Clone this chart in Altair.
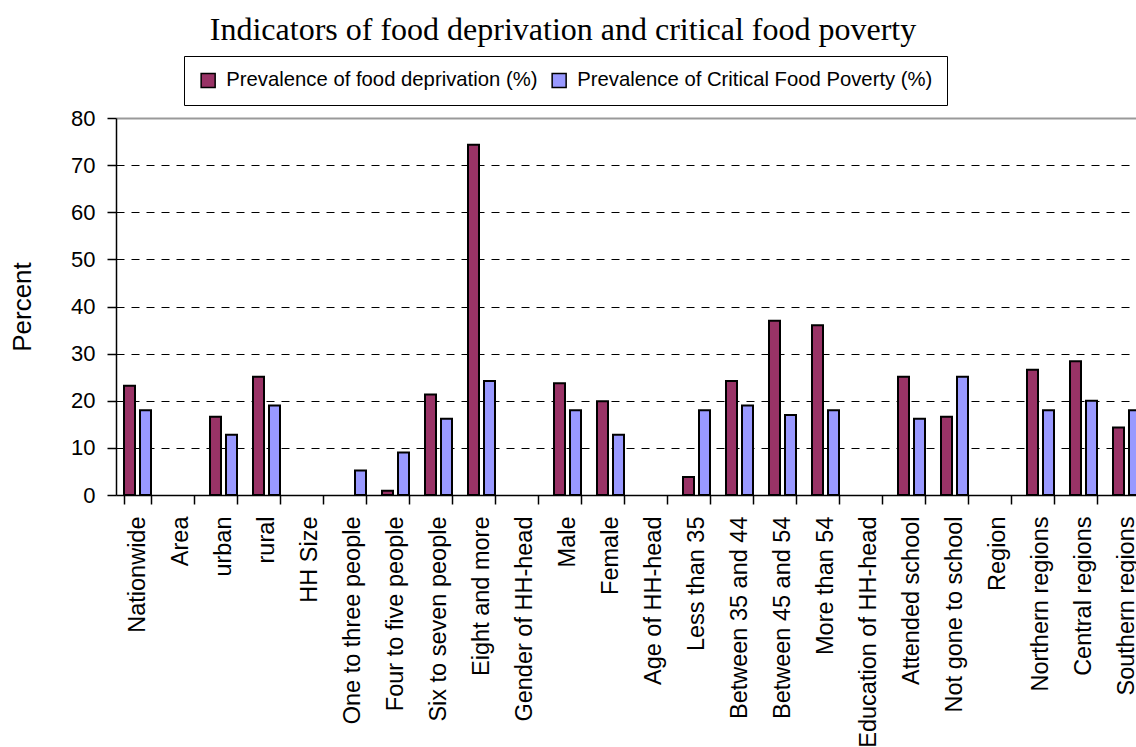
import altair as alt
import pandas as pd

# Household groups along the x axis; the header rows carry no values
categories = [
    "Nationwide", "Area", "urban", "rural", "HH Size",
    "One to three people", "Four to five people", "Six to seven people",
    "Eight and more", "Gender of HH-head", "Male", "Female",
    "Age of HH-head", "Less than 35", "Between 35 and 44",
    "Between 45 and 54", "More than 54", "Education of HH-head",
    "Attended school", "Not gone to school", "Region",
    "Northern regions", "Central regions", "Southern regions",
]

food_deprivation = [
    23.2, None, 16.6, 25.1, None, None, 0.9, 21.3, 74.3, None, 23.7, 19.9,
    None, 3.8, 24.2, 37.0, 36.0, None, 25.1, 16.6, None, 26.6, 28.4, 14.3,
]

critical_food_poverty = [
    18.0, None, 12.8, 19.0, None, 5.2, 9.0, 16.2, 24.2, None, 18.0, 12.8,
    None, 18.0, 19.0, 17.0, 18.0, None, 16.2, 25.1, None, 18.0, 20.0, 18.0,
]

series_names = [
    "Prevalence of food deprivation (%)",
    "Prevalence of Critical Food Poverty (%)",
]
series_colors = ["#993366", "#9999FF"]

y_ticks = [0, 10, 20, 30, 40, 50, 60, 70, 80]

rows = []
for cat, dep, crit in zip(categories, food_deprivation, critical_food_poverty):
    rows.append({"group": cat, "series": series_names[0], "value": dep})
    rows.append({"group": cat, "series": series_names[1], "value": crit})
df = pd.DataFrame(rows).dropna(subset=["value"])

SANS = "Liberation Sans, Arial, sans-serif"
SERIF = "Liberation Serif, Times New Roman, serif"

STEP = 43
PLOT_W = 1020
PLOT_H = 377

x_axis = alt.Axis(
    title=None,
    labelAngle=270,
    labelFont=SANS,
    labelFontSize=23.5,
    labelColor="black",
    labelPadding=12,
    labelLimit=400,
    labelOverlap=False,
    domainColor="black",
    domainWidth=1.5,
    tickColor="black",
    tickWidth=1.5,
    tickSize=9,
    tickBand="extent",
    grid=False,
)

y_axis = alt.Axis(
    title="Percent",
    values=y_ticks,
    labelFont=SANS,
    labelFontSize=22,
    labelColor="black",
    labelPadding=12,
    domainColor="black",
    domainWidth=1.5,
    tickColor="black",
    tickWidth=1.5,
    tickSize=9,
    titleFont=SANS,
    titleFontSize=26,
    titleFontWeight="normal",
    titleColor="black",
    titleX=-94,
    titleY=PLOT_H / 2,
    titleAngle=270,
    titleAlign="center",
    titleBaseline="middle",
    grid=True,
    gridColor={"condition": {"test": "datum.value === 80", "value": "#999999"}, "value": "#000000"},
    gridDash={"condition": {"test": "datum.value === 80", "value": []}, "value": [8, 7]},
    gridWidth={"condition": {"test": "datum.value === 80", "value": 2}, "value": 1},
    gridOpacity={"condition": {"test": "datum.value === 0", "value": 0}, "value": 1},
)

legend = alt.Legend(
    title=None,
    orient="none",
    legendX=68,
    legendY=-62,
    direction="horizontal",
    strokeColor="black",
    fillColor="white",
    padding=14,
    symbolType="square",
    symbolSize=196,
    symbolStrokeColor="black",
    symbolStrokeWidth=1.5,
    symbolOpacity=1,
    labelFont=SANS,
    labelFontSize=20.3,
    labelColor="black",
    labelOffset=8,
    labelLimit=0,
    columnPadding=11,
)

chart = (
    alt.Chart(df)
    .mark_bar(stroke="black", strokeWidth=2, opacity=1)
    .encode(
        x=alt.X(
            "group:N",
            sort=categories,
            scale=alt.Scale(
                domain=categories,
                range=[0, STEP * len(categories)],
                paddingInner=0.372,
                paddingOuter=0.186,
            ),
            axis=x_axis,
        ),
        xOffset=alt.XOffset(
            "series:N",
            sort=series_names,
            scale=alt.Scale(domain=series_names, paddingInner=0.3125, paddingOuter=0),
        ),
        y=alt.Y("value:Q", scale=alt.Scale(domain=[0, 80], nice=False), axis=y_axis),
        color=alt.Color(
            "series:N",
            sort=series_names,
            scale=alt.Scale(domain=series_names, range=series_colors),
            legend=legend,
        ),
    )
    .properties(
        width=PLOT_W,
        height=PLOT_H,
        title=alt.TitleParams(
            "Indicators of food deprivation and critical food poverty",
            font=SERIF,
            fontSize=32,
            fontWeight="normal",
            color="black",
            anchor="middle",
            frame="group",
            dx=-63,
            dy=34,
            baseline="alphabetic",
            offset=18,
        ),
        autosize=alt.AutoSizeParams(type="none"),
        padding={"left": 116, "top": 118, "right": 0, "bottom": 252},
        background="white",
    )
    .configure_view(stroke=None)
)

chart.save("out.html", embed_options={"renderer": "svg", "actions": False})
